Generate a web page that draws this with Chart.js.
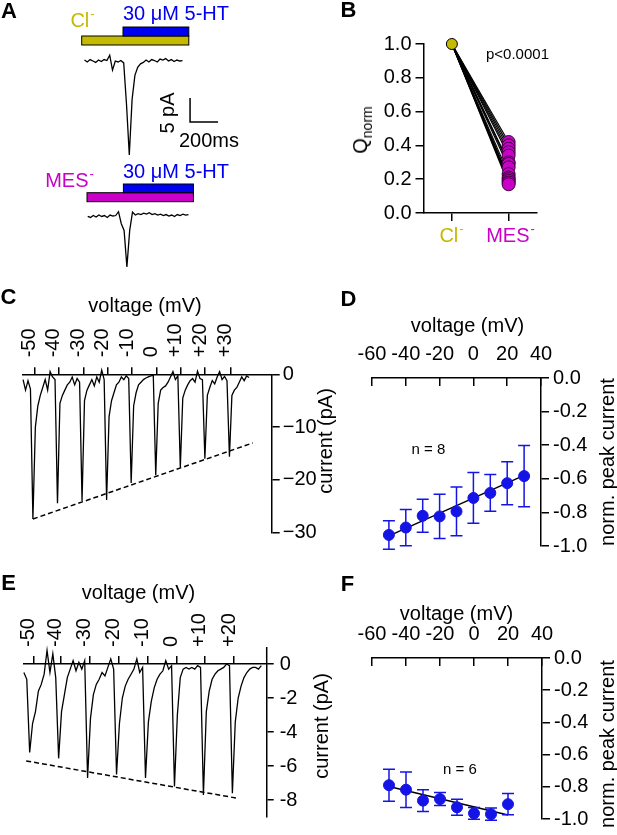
<!DOCTYPE html>
<html>
<head>
<meta charset="utf-8">
<script src="https://cdn.jsdelivr.net/npm/chart.js@4.4.1/dist/chart.umd.min.js"></script>
<style>
  html, body { margin: 0; padding: 0; background: #fff; }
  #fig { position: relative; width: 617px; height: 835px; overflow: hidden;
         font-family: "Liberation Sans", Arial, sans-serif; color: #000; }
  #fig canvas { position: absolute; left: 0; top: 0; }
  .t { position: absolute; white-space: nowrap; line-height: 1; font-size: 20px;
       transform: translate(-50%, -50%); }
  .rot { transform: translate(-50%, -50%) rotate(-90deg); }
  .lbl { font-weight: bold; font-size: 22px; }
  .sm { font-size: 15px; }
  .sup { font-size: 13px; position: relative; top: -9px; margin-left: 1px; }
  .sub { font-size: 14px; position: relative; top: 5px; }
</style>
</head>
<body>
<div id="fig"></div>
<script>
const W = 617, H = 835;
const YEL = "#c4ba00", MAG = "#c800c8", BLUE = "#0000f0", DOT = "#1414e6";

// ---------- data ----------
// A: example currents (pA), one sample every 20 ms
const dtA = 20;
const traceA1 = [0.2, -0.2, 0.3, 0, -0.3, 0.2, -0.1, 0.3, 0.1, 1.2, -1.9, 0, -0.2, 0.1, -0.4, -9, -19.6, -8,
  -3, -1.3, -0.6, -0.3, 0.2, -0.2, 0.3, 0.1, -0.2, 0.4, 0.2, 0.5, 0, 0.3, -0.1, 0.2, 0, 0.1];
const traceA2 = [-0.1, -0.3, 0.1, -0.2, 0.2, -0.1, 0.1, -0.3, 0.2, 0, 0.1, 0.9, -1.6, -3, -10.6, -3, 0.8, 0.2,
  0.5, 0.3, 0.6, 0.4, 0.7, 0.3, 0.5, 0.2, 0.4, 0.1, 0.3, 0, 0.2, -0.1, 0.3, 0.1, 0.4, 0.2, 0.3];
const clBarA = [-20, 745];     // ms
const htBarA1 = [275, 745];
const mesBarA = [-5, 755];
const htBarA2 = [255, 755];
const scaleBarA = { t: 754, y: -12.7, ms: 200, pA: 5 };

// B: normalised charge, Cl- vs MES-
const xPosB = [0, 1];
const clB = 1.0;
const mesB = [0.42, 0.40, 0.38, 0.36, 0.34, 0.30, 0.29, 0.27, 0.23, 0.21, 0.20, 0.19, 0.18, 0.17];

// C: current trace during voltage steps (pA), one sample every 0.1 step
const dtC = 0.1;
const voltLabelsC = ["-50", "-40", "-30", "-20", "-10", "0", "+10", "+20", "+30"];
const stepTimesC = [0.475, 1.46, 2.46, 3.45, 4.44, 5.43, 6.42, 7.41, 8.44];
const traceC = [
  -1, -3, -1.2, -2.8, -27.4, -10, -6, -4, -2.5, -1, -3, 0.5, -0.5, -1,
  -24.4, -5.5, -4, -3, -2, -1.5, -0.5, -2, -0.8, -1.5,
  -24, -5, -3, -2, -1, -2.2, -0.5, -1.5, 0.8, -1,
  -23.8, -8, -5, -3.5, -2, -1.5, -0.5, -1, -0.3, -0.8,
  -20.6, -6, -3.5, -2, -1.5, -1, -0.7, -0.5, -0.3, -0.2,
  -19.1, -5.5, -3, -2.5, -2.2, -1.5, -0.5, 0.5, -1, -0.3,
  -17.7, -4.5, -3, -2, -1.2, -0.8, -1.5, 0.6, -0.8, -1,
  -16, -4, -2.5, -1.2, -1.8, -0.5, 0.5, -1, -0.4, -1.2,
  -15.6, -4, -3, -2.5, -1.5, -0.5, -1.2, -0.3, -0.6];
const fitC = [[0.4, -27.4], [9.35, -13.0]];
const yTicksC = [0, -10, -20, -30];

// D: normalised peak current vs voltage (Cl-)
const voltD = [-50, -40, -30, -20, -10, 0, 10, 20, 30];
const meanD = [-0.934, -0.89, -0.82, -0.824, -0.794, -0.714, -0.684, -0.626, -0.584];
const semD = [0.085, 0.108, 0.098, 0.132, 0.145, 0.151, 0.109, 0.128, 0.182];
const fitD = [[-50, -0.94], [30, -0.58]];

// E: current trace during voltage steps (MES-)
const dtE = 0.1;
const voltLabelsE = ["-50", "-40", "-30", "-20", "-10", "0", "+10", "+20"];
const stepTimesE = [0.33, 1.28, 2.27, 3.26, 4.28, 5.27, 6.25, 7.26];
const traceE = [
  -0.5, -0.9, -5.2, -3.5, -2.8, -1.6, -1.2, -0.6, 0.8, -0.5, 0.6, -0.8,
  -5.55, -2.8, -1.8, -0.8, -0.3, 0.2, -0.4, 0.1, -0.3, 0.2,
  -6.7, -3.2, -1.8, -1.2, -0.9, -0.5, -0.7, -0.2, 0.3, -0.3,
  -6.5, -3.5, -2, -1.3, -0.9, -0.6, -0.3, 0.3, -0.5, -0.2,
  -6.7, -3.4, -2.2, -1.4, -0.9, -0.6, -0.4, 0.2, -0.3, -0.1,
  -7.2, -3, -0.8, -0.3, -0.2, -0.3, -0.2, -0.3, -0.1, -0.2,
  -7.7, -2.8, -1.6, -0.9, -0.6, -0.4, -0.3, -0.2, 0, -0.1,
  -7.6, -3.4, -2, -1.3, -0.8, -0.5, -0.3, -0.2, -0.2, -0.3, -0.1];
const fitE = [[0.08, -5.7], [7.38, -7.9]];
const yTicksE = [0, -2, -4, -6, -8];
const yTopE = 1;

// F: normalised peak current vs voltage (MES-)
const voltF = [-50, -40, -30, -20, -10, 0, 10, 20];
const meanF = [-0.79, -0.818, -0.886, -0.876, -0.927, -0.965, -0.97, -0.908];
const semF = [0.099, 0.11, 0.067, 0.04, 0.05, 0.037, 0.038, 0.066];
const fitF = [[-50, -0.798], [20, -0.975]];

// ---------- helpers ----------
Chart.defaults.font.family = '"Liberation Sans", Arial, sans-serif';
Chart.defaults.font.size = 20;
Chart.defaults.color = "#000";
Chart.defaults.animation = false;
Chart.defaults.events = [];
Chart.defaults.plugins.legend.display = false;
Chart.defaults.plugins.tooltip.enabled = false;

const fig = document.getElementById("fig");

function addCanvas() {
  const c = document.createElement("canvas");
  c.width = W; c.height = H;
  c.style.width = W + "px"; c.style.height = H + "px";
  fig.appendChild(c);
  return c;
}

// padding so that the chart area is exactly box (l,t,r,b); s = fixed axis sizes
function padFor(b, s) {
  s = s || {};
  return { left: b.l - (s.left || 0), top: b.t - (s.top || 0),
           right: W - b.r - (s.right || 0), bottom: H - b.b - (s.bottom || 0) };
}

const axisGrid = (len) => ({ display: true, drawOnChartArea: false, drawTicks: true,
  tickLength: len, color: "#000", lineWidth: 1.5 });
const axisBorder = { display: true, color: "#000", width: 1.5 };
const fixTicks = (arr) => (sc) => { sc.ticks = arr.map((v) => ({ value: v })); };
const fixH = (h) => (sc) => { sc.height = h; };
const fixW = (w) => (sc) => { sc.width = w; };
const xy = (xs, ys) => xs.map((x, i) => ({ x, y: ys[i] }));
const series = (vals, dt) => vals.map((v, i) => ({ x: i * dt, y: v }));
const pairs = (arr) => arr.map(([x, y]) => ({ x, y }));

const traceStyle = { borderColor: "#000", borderWidth: 1.3, pointRadius: 0, tension: 0, clip: false };
const dashStyle = { borderColor: "#000", borderWidth: 1.5, borderDash: [5, 3], pointRadius: 0, clip: false };

// solution application bars (x from the time scale)
const appBars = {
  id: "appBars",
  afterDatasetsDraw(chart, args, opts) {
    if (!opts.bars) return;
    const ctx = chart.ctx, xs = chart.scales.x;
    ctx.save();
    opts.bars.forEach((b) => {
      const x0 = xs.getPixelForValue(b.from), x1 = xs.getPixelForValue(b.to);
      ctx.fillStyle = b.color;
      ctx.fillRect(x0, b.top, x1 - x0, b.h);
      ctx.strokeStyle = "#000"; ctx.lineWidth = 1;
      ctx.strokeRect(x0, b.top, x1 - x0, b.h);
    });
    ctx.restore();
  },
};

// vertical error bars with caps
const errorBars = {
  id: "errorBars",
  afterDatasetsDraw(chart) {
    const ctx = chart.ctx, xs = chart.scales.x, ys = chart.scales.y;
    chart.data.datasets.forEach((ds) => {
      if (!ds.errorBars) return;
      ctx.save();
      ctx.strokeStyle = ds.borderColor; ctx.lineWidth = 1.5;
      ds.data.forEach((p, i) => {
        const e = ds.errorBars[i], x = xs.getPixelForValue(p.x);
        const y1 = ys.getPixelForValue(p.y + e), y2 = ys.getPixelForValue(p.y - e);
        ctx.beginPath();
        ctx.moveTo(x, y1); ctx.lineTo(x, y2);
        ctx.moveTo(x - 6, y1); ctx.lineTo(x + 6, y1);
        ctx.moveTo(x - 6, y2); ctx.lineTo(x + 6, y2);
        ctx.stroke();
      });
      ctx.restore();
    });
  },
};

// extend the right axis line up to a value above the top of the chart area
const axisExtend = {
  id: "axisExtend",
  afterDraw(chart, args, opts) {
    if (opts.value == null) return;
    const ctx = chart.ctx, ys = chart.scales.y, a = chart.chartArea;
    ctx.save();
    ctx.strokeStyle = "#000"; ctx.lineWidth = 1.5;
    ctx.beginPath();
    ctx.moveTo(a.right, ys.getPixelForValue(0));
    ctx.lineTo(a.right, ys.getPixelForValue(opts.value));
    ctx.stroke();
    ctx.restore();
  },
};

function hidden(min, max) {
  return { type: "linear", display: false, min, max };
}

// ---------- A ----------
function traceA(box, trace, bars, withScale) {
  const ds = [{ data: series(trace, dtA), ...traceStyle }];
  if (withScale) {
    const s = scaleBarA;
    ds.push({ data: [{ x: s.t, y: s.y + s.pA }, { x: s.t, y: s.y }, { x: s.t + s.ms, y: s.y }],
      borderColor: "#000", borderWidth: 1.5, pointRadius: 0, clip: false });
  }
  new Chart(addCanvas(), {
    type: "line",
    data: { datasets: ds },
    options: {
      responsive: false, devicePixelRatio: 1,
      layout: { padding: padFor(box), autoPadding: false },
      scales: { x: hidden(-100, 1200), y: hidden(box.ymin, box.ymax) },
      plugins: { appBars: { bars } },
    },
    plugins: [appBars],
  });
}

traceA({ l: 70.5, t: 13, r: 252.5, b: 181, ymin: -25, ymax: 10 }, traceA1, [
  { from: clBarA[0], to: clBarA[1], color: YEL, top: 36, h: 9 },
  { from: htBarA1[0], to: htBarA1[1], color: BLUE, top: 27, h: 9 },
], true);
traceA({ l: 73.7, t: 187.2, r: 255.7, b: 283.2, ymin: -14, ymax: 6 }, traceA2, [
  { from: mesBarA[0], to: mesBarA[1], color: MAG, top: 192.7, h: 9 },
  { from: htBarA2[0], to: htBarA2[1], color: BLUE, top: 184, h: 8.7 },
], false);

// ---------- B ----------
(function () {
  const box = { l: 423.5, t: 44, r: 537, b: 213 };
  const ds = [];
  ds.push({ data: [{ x: xPosB[0], y: clB }], pointRadius: 5.5, backgroundColor: YEL,
    borderColor: "#000", borderWidth: 1, showLine: false, clip: false, order: 0 });
  ds.push({ data: mesB.map((v) => ({ x: xPosB[1], y: v })), pointRadius: 6.5, backgroundColor: MAG,
    borderColor: "#3a003a", borderWidth: 1, showLine: false, clip: false, order: 0 });
  mesB.forEach((v) => {
    ds.push({ data: [{ x: xPosB[0], y: clB }, { x: xPosB[1], y: v }], borderColor: "#000",
      borderWidth: 1.2, pointRadius: 0, clip: false, order: 1 });
  });
  new Chart(addCanvas(), {
    type: "line",
    data: { datasets: ds },
    options: {
      responsive: false, devicePixelRatio: 1,
      layout: { padding: padFor(box, { left: 60, bottom: 10 }), autoPadding: false },
      scales: {
        x: { type: "linear", min: -0.5, max: 1.5, afterBuildTicks: fixTicks(xPosB),
             ticks: { display: false }, grid: axisGrid(8), border: axisBorder, afterFit: fixH(10) },
        y: { type: "linear", min: 0, max: 1, ticks: { stepSize: 0.2, padding: 4,
             callback: (v) => v.toFixed(1) }, grid: axisGrid(8), border: axisBorder, afterFit: fixW(60) },
      },
    },
  });
})();

// ---------- C / E : voltage-step traces ----------
function stepTrace(box, trace, dt, fit, stepTimes, labels, yTicks, yFmt, opt) {
  new Chart(addCanvas(), {
    type: "line",
    data: { datasets: [
      { data: series(trace, dt), ...traceStyle },
      { data: pairs(fit), ...dashStyle },
    ] },
    options: {
      responsive: false, devicePixelRatio: 1,
      layout: { padding: padFor(box, { top: 70, right: 45 }), autoPadding: false },
      scales: {
        x: { type: "linear", position: "top", min: 0, max: box.xmax,
             afterBuildTicks: fixTicks(stepTimes),
             ticks: { autoSkip: false, minRotation: 90, maxRotation: 90, padding: opt.xPad,
                      labelOffset: opt.labelOffset, callback: (v, i) => labels[i] },
             grid: axisGrid(opt.xTick), border: axisBorder, afterFit: fixH(70) },
        y: { type: "linear", position: "right", min: box.ymin, max: 0,
             afterBuildTicks: fixTicks(yTicks),
             ticks: { padding: opt.yPad, callback: yFmt },
             grid: axisGrid(opt.yTick), border: axisBorder, afterFit: fixW(45) },
      },
      plugins: { axisExtend: { value: opt.extend } },
    },
    plugins: [axisExtend],
  });
}

stepTrace({ l: 16, t: 374.3, r: 271.7, b: 532.7, xmax: 10.12, ymin: -30 }, traceC, dtC, fitC,
  stepTimesC, voltLabelsC, yTicksC, (v) => (v < 0 ? "\u2212" + Math.abs(v) : String(v)),
  { xPad: 10, xTick: 7, yPad: 3, yTick: 8, labelOffset: 19, extend: null });

stepTrace({ l: 11, t: 664, r: 266.7, b: 819.7, xmax: 8.385, ymin: -9 }, traceE, dtE, fitE,
  stepTimesE, voltLabelsE, yTicksE, (v) => String(v),
  { xPad: 9, xTick: 8, yPad: 6, yTick: 7, labelOffset: 19, extend: yTopE });

// ---------- D / F : normalised I-V ----------
function ivChart(box, volts, means, sems, fit) {
  new Chart(addCanvas(), {
    type: "line",
    data: { datasets: [
      { data: xy(volts, means), showLine: false, pointRadius: 5.5, backgroundColor: DOT,
        borderColor: DOT, borderWidth: 1, errorBars: sems, clip: false },
      { data: pairs(fit), borderColor: "#000", borderWidth: 1.5, pointRadius: 0, clip: false },
    ] },
    options: {
      responsive: false, devicePixelRatio: 1,
      layout: { padding: padFor(box, { top: 50, right: 50 }), autoPadding: false },
      scales: {
        x: { type: "linear", position: "top", min: -60, max: 40,
             ticks: { stepSize: 20, padding: 20, maxRotation: 0 },
             grid: axisGrid(-8), border: axisBorder, afterFit: fixH(50) },
        y: { type: "linear", position: "right", min: -1, max: 0,
             ticks: { stepSize: 0.2, padding: 4, callback: (v) => v.toFixed(1) },
             grid: axisGrid(8), border: axisBorder, afterFit: fixW(50) },
      },
    },
    plugins: [errorBars],
  });
}

ivChart({ l: 372, t: 378, r: 541, b: 546 }, voltD, meanD, semD, fitD);
ivChart({ l: 372, t: 658, r: 542, b: 828 }, voltF, meanF, semF, fitF);

// ---------- text ----------
function text(html, cx, cy, cls, color) {
  const d = document.createElement("div");
  d.className = "t " + (cls || "");
  d.style.left = cx + "px"; d.style.top = cy + "px";
  if (color) d.style.color = color;
  d.innerHTML = html;
  fig.appendChild(d);
}
const SUPM = '<span class="sup">-</span>';

text("A", 9, 11, "lbl");
text("Cl" + SUPM, 82.5, 20, "", YEL);
text("30 &mu;M 5-HT", 176, 12.5, "", BLUE);
text("5 pA", 166.5, 112.5, "rot");
text("200ms", 209, 139.5);
text("30 &mu;M 5-HT", 176, 170.5, "", BLUE);
text("MES" + SUPM, 69.5, 180, "", MAG);

text("B", 348.5, 10, "lbl");
text('Q<span class="sub">norm</span>', 360, 130, "rot");
text("p&lt;0.0001", 517.5, 52.5, "sm");
text("Cl" + SUPM, 451.5, 235, "", YEL);
text("MES" + SUPM, 510.5, 235, "", MAG);

text("C", 8.5, 296.5, "lbl");
text("voltage (mV)", 145, 305);
text("current (pA)", 325, 441, "rot");

text("D", 348.5, 299, "lbl");
text("voltage (mV)", 467.5, 325);
text("n = 8", 428.5, 448, "sm");
text("norm. peak current", 607, 462, "rot");

text("E", 8.5, 582.5, "lbl");
text("voltage (mV)", 138.5, 592);
text("current (pA)", 321, 726, "rot");

text("F", 347.5, 583.5, "lbl");
text("voltage (mV)", 456.5, 613);
text("n = 6", 460, 768, "sm");
text("norm. peak current", 607, 744, "rot");
</script>
</body>
</html>
